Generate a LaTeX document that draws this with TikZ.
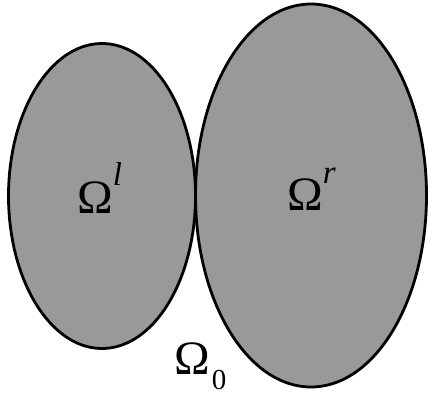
\documentclass[tikz,border=0pt]{standalone}
\usepackage{fontspec}
\setmainfont{Liberation Serif}
\begin{document}
\begin{tikzpicture}[x=1pt,y=-1pt,
  region/.style={fill={rgb,255:red,153;green,153;blue,153},draw=black,line width=2.8pt},
  lbl/.style={anchor=base west,inner sep=0pt,font=\fontsize{48}{52}\selectfont}]
\useasboundingbox[fill=white] (0,0) rectangle (428,396);
\path[region] (102,196) ellipse [x radius=93.5, y radius=152.5];
\path[region] (311,195.5) ellipse [x radius=115.5, y radius=191.5];
\node[lbl] (ol) at (77,213) {Ω\raisebox{28pt}{\fontsize{33}{35}\selectfont\itshape l}};
\node[lbl] (or) at (287,210) {Ω\raisebox{27pt}{\fontsize{33}{35}\selectfont\itshape r}};
\node[lbl] (oz) at (174,374) {Ω\kern2pt\raisebox{-15pt}{\fontsize{29}{31}\selectfont 0}};
\end{tikzpicture}
\end{document}
